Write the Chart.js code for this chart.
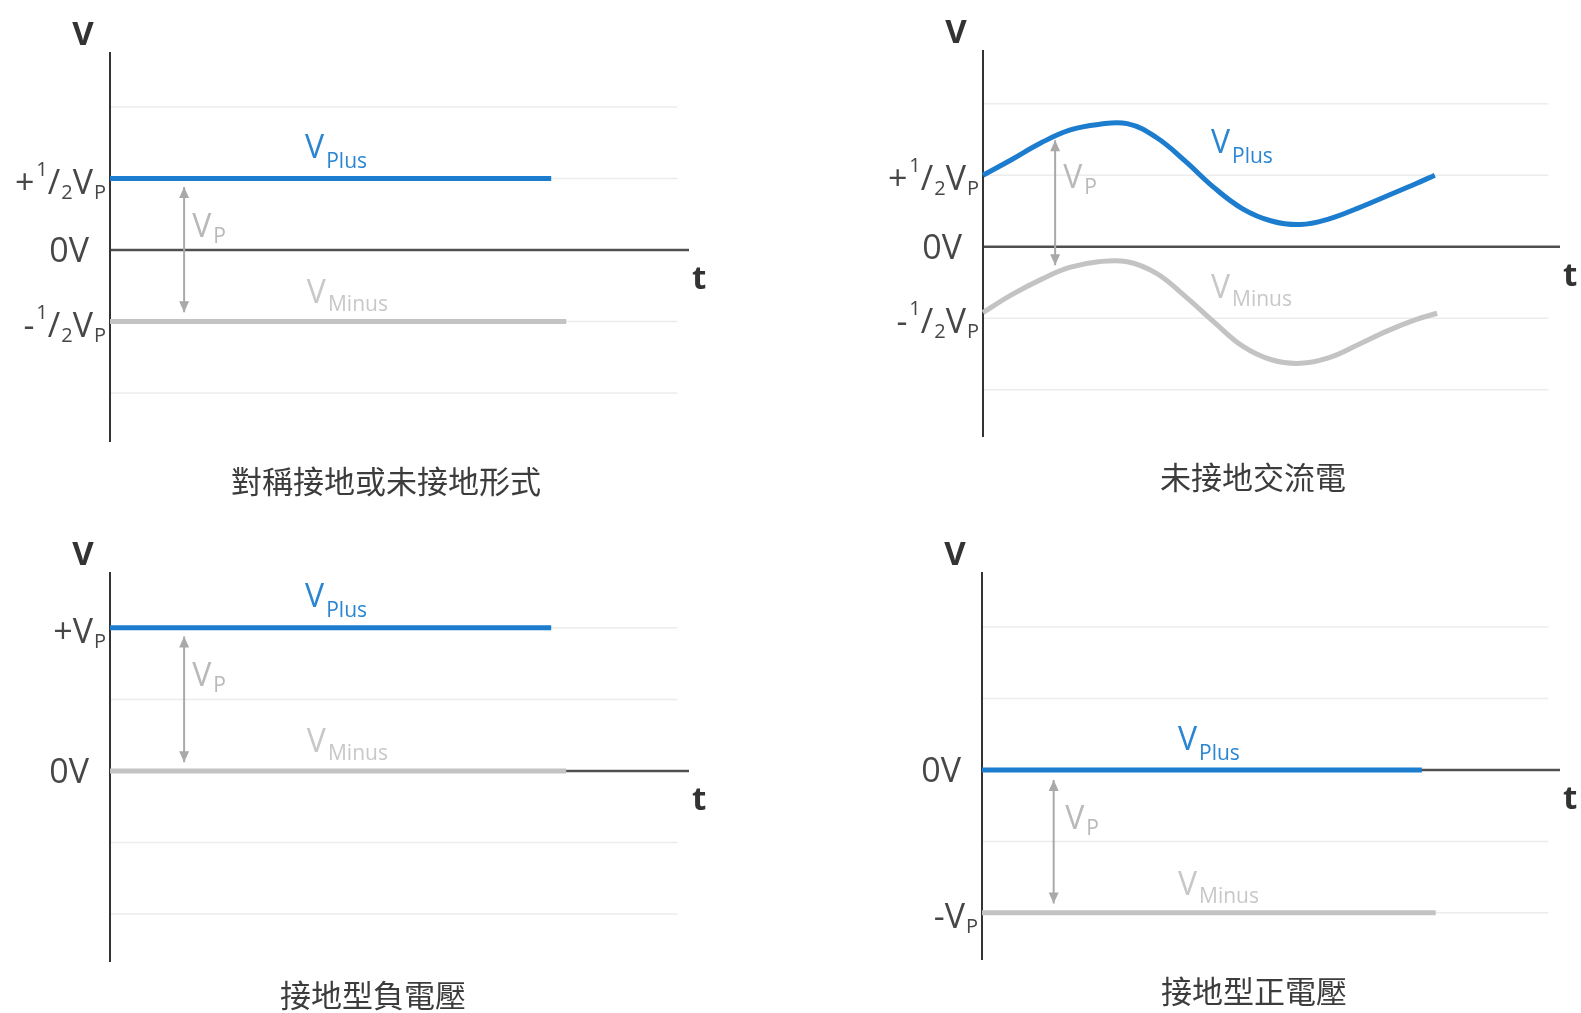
<!DOCTYPE html>
<html>
<head>
<meta charset="utf-8">
<script src="https://cdn.jsdelivr.net/npm/chart.js@4.4.1/dist/chart.umd.min.js"></script>
<style>
  html, body { margin: 0; padding: 0; background: #fff; }
  body { width: 1581px; height: 1013px; position: relative; overflow: hidden; }
  canvas { position: absolute; }
</style>
</head>
<body>
<canvas id="c1" width="790" height="506" style="left:0px;top:0px"></canvas>
<canvas id="c2" width="708" height="506" style="left:873px;top:0px"></canvas>
<canvas id="c3" width="790" height="507" style="left:0px;top:506px"></canvas>
<canvas id="c4" width="708" height="507" style="left:873px;top:506px"></canvas>
<script>
// values in units of 1/2 Vp, time axis 0..100
const gridValues = [2, 1, -1, -2];
const gridEnd = 98;

// 對稱接地或未接地形式
const symPlusX = [0, 76.2];
const symPlusY = [1, 1];
const symMinusX = [0, 78.8];
const symMinusY = [-1, -1];
const symArrowX = [12.8, 12.8];
const symArrowY = [0.88, -0.87];

// 未接地交流電
const acPlusX = [0, 5, 10, 15, 20, 25, 30, 35, 40, 45, 50, 55, 60, 65, 70, 75, 78.3];
const acPlusY = [1.0, 1.22, 1.45, 1.63, 1.71, 1.72, 1.53, 1.20, 0.83, 0.53, 0.36, 0.31, 0.39, 0.54, 0.71, 0.88, 1.0];
const acMinusX = [0, 5, 10, 15, 20, 25, 30, 35, 40, 45, 50, 55, 60, 65, 70, 75, 78.7];
const acMinusY = [-0.92, -0.67, -0.46, -0.29, -0.21, -0.21, -0.37, -0.69, -1.05, -1.39, -1.58, -1.63, -1.55, -1.37, -1.18, -1.02, -0.93];
const acArrowX = [12.5, 12.5];
const acArrowY = [1.49, -0.26];

// 接地型負電壓
const negPlusX = [0, 76.2];
const negPlusY = [2, 2];
const negMinusX = [0, 78.8];
const negMinusY = [0, 0];
const negArrowX = [12.8, 12.8];
const negArrowY = [1.88, 0.12];

// 接地型正電壓
const posPlusX = [0, 76.1];
const posPlusY = [0, 0];
const posMinusX = [0, 78.5];
const posMinusY = [-2, -2];
const posArrowX = [12.4, 12.4];
const posArrowY = [-0.14, -1.87];

// tick labels (rich text segments)
const halfPlus = [["+", "n"], ["1", "sup"], ["/", "n"], ["2", "sub"], ["V", "n"], ["P", "sub"]];
const halfMinus = [["-", "n"], ["1", "sup"], ["/", "n"], ["2", "sub"], ["V", "n"], ["P", "sub"]];
const zeroV = [["0V", "n"]];
const fullPlus = [["+V", "n"], ["P", "sub"]];
const fullMinus = [["-V", "n"], ["P", "sub"]];

const symTickValues = [1, 0, -1];
const symTickLabels = [halfPlus, zeroV, halfMinus];
const negTickValues = [2, 0];
const negTickLabels = [fullPlus, zeroV];
const posTickValues = [0, -2];
const posTickLabels = [zeroV, fullMinus];

const BLUE = "#1c7cce";
const GRAY = "#c3c3c3";
const FONT = '"Open Sans", "DejaVu Sans", sans-serif';
const CJK = '"Noto Sans CJK TC", "Noto Sans CJK SC", sans-serif';

function pts(xs, ys) {
  return xs.map((v, i) => ({ x: v, y: ys[i] }));
}

function drawRich(ctx, segs, x, y, align, big, small) {
  const fonts = { n: `${big}px ${FONT}`, sup: `${small}px ${FONT}`, sub: `${small}px ${FONT}` };
  const dy = { n: 0, sup: -18, sub: 5 };
  const gap = { n: 0, sup: 2, sub: 1 };
  let total = 0;
  segs.forEach(([t, k]) => {
    ctx.font = fonts[k];
    total += ctx.measureText(t).width + gap[k];
  });
  let cx = align === "right" ? x - total : x;
  ctx.textAlign = "left";
  ctx.textBaseline = "alphabetic";
  segs.forEach(([t, k]) => {
    ctx.font = fonts[k];
    cx += gap[k];
    ctx.fillText(t, cx, y + dy[k]);
    cx += ctx.measureText(t).width;
  });
}

const decor = {
  id: "decor",
  beforeDatasetsDraw(chart, args, o) {
    const { ctx, chartArea: a, scales: { x, y } } = chart;
    ctx.save();
    ctx.strokeStyle = "#ececec";
    ctx.lineWidth = 1.5;
    gridValues.forEach((v) => {
      const py = y.getPixelForValue(v);
      ctx.beginPath();
      ctx.moveTo(a.left, py);
      ctx.lineTo(x.getPixelForValue(gridEnd), py);
      ctx.stroke();
    });
    const zy = y.getPixelForValue(0);
    ctx.strokeStyle = "#505050";
    ctx.lineWidth = 2.5;
    ctx.beginPath();
    ctx.moveTo(a.left, zy);
    ctx.lineTo(a.right, zy);
    ctx.stroke();
    ctx.strokeStyle = "#333";
    ctx.lineWidth = 2;
    ctx.beginPath();
    ctx.moveTo(a.left, a.top);
    ctx.lineTo(a.left, a.bottom);
    ctx.stroke();
    ctx.restore();
  },
  afterDatasetsDraw(chart, args, o) {
    const { ctx, chartArea: a, scales: { x, y } } = chart;
    ctx.save();

    // arrow heads on the Vp arrow
    const meta = chart.getDatasetMeta(2);
    const p0 = meta.data[0], p1 = meta.data[1];
    ctx.fillStyle = "#a9a9a9";
    [[p0, 1], [p1, -1]].forEach(([p, d]) => {
      ctx.beginPath();
      ctx.moveTo(p.x, p.y);
      ctx.lineTo(p.x - 5, p.y + d * 11);
      ctx.lineTo(p.x + 5, p.y + d * 11);
      ctx.closePath();
      ctx.fill();
    });

    // series labels
    o.labels.forEach((l) => {
      const px = x.getPixelForValue(l.x);
      const py = y.getPixelForValue(l.y);
      ctx.fillStyle = l.color;
      ctx.font = `32px ${FONT}`;
      ctx.textAlign = "left";
      ctx.textBaseline = "alphabetic";
      ctx.fillText("V", px, py);
      const w = ctx.measureText("V").width;
      ctx.font = `21px ${FONT}`;
      ctx.fillText(l.sub, px + w + 2, py + l.subDy);
    });

    // tick labels
    ctx.fillStyle = "#474747";
    o.tickValues.forEach((v, i) => {
      const segs = o.tickLabels[i];
      const py = y.getPixelForValue(v);
      const isZero = segs.length === 1;
      drawRich(ctx, segs, a.left - (isZero ? 21 : 4), py + (isZero ? 12 : 15), "right", 34, 20);
    });

    // axis titles
    ctx.fillStyle = "#333";
    ctx.font = `bold 33px ${FONT}`;
    ctx.textAlign = "center";
    ctx.textBaseline = "alphabetic";
    ctx.fillText("V", a.left - 27, a.top - 7);
    ctx.textAlign = "left";
    ctx.fillText("t", a.right + 3, y.getPixelForValue(0) + 39);

    // caption
    ctx.fillStyle = "#3c3c3c";
    ctx.font = `31px ${CJK}`;
    ctx.textAlign = "center";
    ctx.textBaseline = "middle";
    ctx.fillText(o.caption, o.captionX, o.captionY);
    ctx.restore();
  },
};

function makePanel(id, p) {
  new Chart(document.getElementById(id), {
    type: "line",
    data: {
      datasets: [
        {
          label: "VPlus",
          data: pts(p.plusX, p.plusY),
          borderColor: BLUE,
          borderWidth: 5,
          pointRadius: 0,
          tension: 0.4,
          borderCapStyle: "butt",
          clip: false,
        },
        {
          label: "VMinus",
          data: pts(p.minusX, p.minusY),
          borderColor: GRAY,
          borderWidth: 5,
          pointRadius: 0,
          tension: 0.4,
          borderCapStyle: "butt",
          clip: false,
        },
        {
          label: "Vp",
          data: pts(p.arrowX, p.arrowY),
          borderColor: "#a9a9a9",
          borderWidth: 2,
          pointRadius: 0,
          clip: false,
        },
      ],
    },
    options: {
      responsive: false,
      animation: false,
      layout: { padding: p.padding },
      scales: {
        x: { type: "linear", min: 0, max: 100, display: false },
        y: { type: "linear", min: p.yMin, max: p.yMax, display: false },
      },
      plugins: {
        legend: { display: false },
        tooltip: { enabled: false },
        decor: {
          labels: p.labels,
          tickValues: p.tickValues,
          tickLabels: p.tickLabels,
          caption: p.caption,
          captionX: p.captionX,
          captionY: p.captionY,
        },
      },
    },
    plugins: [decor],
  });
}

makePanel("c1", {
  plusX: symPlusX, plusY: symPlusY, minusX: symMinusX, minusY: symMinusY,
  arrowX: symArrowX, arrowY: symArrowY,
  padding: { left: 110, top: 52, right: 101, bottom: 64 },
  yMin: -2.685, yMax: 2.77,
  tickValues: symTickValues, tickLabels: symTickLabels,
  labels: [
    { x: 33.7, y: 1.29, sub: "Plus", color: "#2a86d2", subDy: 10 },
    { x: 34.0, y: -0.74, sub: "Minus", color: "#c8c8c8", subDy: 8 },
    { x: 14.2, y: 0.18, sub: "P", color: "#b9b9b9", subDy: 6 },
  ],
  caption: "對稱接地或未接地形式", captionX: 386, captionY: 481,
});

makePanel("c2", {
  plusX: acPlusX, plusY: acPlusY, minusX: acMinusX, minusY: acMinusY,
  arrowX: acArrowX, arrowY: acArrowY,
  padding: { left: 110, top: 50, right: 21, bottom: 69 },
  yMin: -2.66, yMax: 2.75,
  tickValues: symTickValues, tickLabels: symTickLabels,
  labels: [
    { x: 39.5, y: 1.31, sub: "Plus", color: "#2a86d2", subDy: 10 },
    { x: 39.5, y: -0.71, sub: "Minus", color: "#c8c8c8", subDy: 8 },
    { x: 13.9, y: 0.82, sub: "P", color: "#b9b9b9", subDy: 6 },
  ],
  caption: "未接地交流電", captionX: 380, captionY: 477,
});

makePanel("c3", {
  plusX: negPlusX, plusY: negPlusY, minusX: negMinusX, minusY: negMinusY,
  arrowX: negArrowX, arrowY: negArrowY,
  padding: { left: 110, top: 66, right: 101, bottom: 51 },
  yMin: -2.67, yMax: 2.78,
  tickValues: negTickValues, tickLabels: negTickLabels,
  labels: [
    { x: 33.7, y: 2.29, sub: "Plus", color: "#2a86d2", subDy: 10 },
    { x: 34.0, y: 0.26, sub: "Minus", color: "#c8c8c8", subDy: 8 },
    { x: 14.2, y: 1.18, sub: "P", color: "#b9b9b9", subDy: 6 },
  ],
  caption: "接地型負電壓", captionX: 373, captionY: 489,
});

makePanel("c4", {
  plusX: posPlusX, plusY: posPlusY, minusX: posMinusX, minusY: posMinusY,
  arrowX: posArrowX, arrowY: posArrowY,
  padding: { left: 109, top: 66, right: 21, bottom: 53 },
  yMin: -2.66, yMax: 2.77,
  tickValues: posTickValues, tickLabels: posTickLabels,
  labels: [
    { x: 33.9, y: 0.28, sub: "Plus", color: "#2a86d2", subDy: 10 },
    { x: 33.9, y: -1.75, sub: "Minus", color: "#c8c8c8", subDy: 8 },
    { x: 14.4, y: -0.82, sub: "P", color: "#b9b9b9", subDy: 6 },
  ],
  caption: "接地型正電壓", captionX: 381, captionY: 485,
});
</script>
</body>
</html>
